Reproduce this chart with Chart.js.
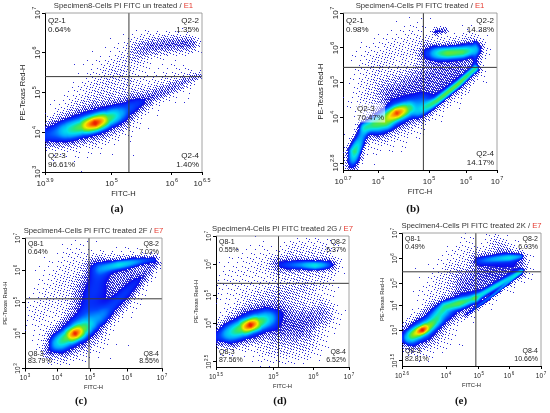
<!DOCTYPE html>
<html><head><meta charset="utf-8">
<script src="https://cdn.jsdelivr.net/npm/chart.js@4.4.1/dist/chart.umd.min.js"></script>
<style>
html,body{margin:0;padding:0;background:#fff;}
body{width:550px;height:413px;position:relative;overflow:hidden;}
canvas{position:absolute;left:0;top:0;}
</style></head><body>
<script>
// ---------------- DATA ----------------
const panelTitles = ["Specimen8-Cells PI FITC un treated / ", "Specimen4-Cells PI FITC treated / ", "Specimen4-Cells PI FITC treated 2F / ", "Specimen4-Cells PI FITC treated 2G / ", "Specimen4-Cells PI FITC treated 2K / "];
const titleTags = ["E1", "E1", "E7", "E7", "E7"];
const panelLetters = ["(a)", "(b)", "(c)", "(d)", "(e)"];
const xAxisTitle = "FITC-H";
const yAxisTitle = "PE-Texas Red-H";
const quadNames = [["Q2-1","Q2-2","Q2-3","Q2-4"],["Q2-1","Q2-2","Q2-3","Q2-4"],["Q8-1","Q8-2","Q8-3","Q8-4"],["Q8-1","Q8-2","Q8-3","Q8-4"],["Q8-1","Q8-2","Q8-3","Q8-4"]];
const quadPcts = [["0.64%","1.35%","96.61%","1.40%"],["0.98%","14.38%","70.47%","14.17%"],["0.64%","7.02%","83.79%","8.55%"],["0.55%","5.37%","87.56%","6.52%"],["0.49%","6.03%","82.81%","10.66%"]];
// tick exponents (log10 of FITC-H / PE-Texas Red-H)
const xTicks = [[3.9,5,6,6.5],[0.7,4,5,6,7],[3,4,5,6,7],[3.5,5,6,7],[2.6,4,5,6,7]];
const yTicks = [[3,4,5,6,7],[2.8,4,5,6,7],[3,4,5,6,7],[2.5,4,5,6,7],[1.5,3,4,5,6,7]];
// quadrant gates (log10)
const gateX = [5.29, 4.89, 4.97, 5.13, 4.91];
const gateY = [5.40, 5.43, 5.10, 5.38, 5.46];
// cell populations: each path = list of [log10 FITC, log10 PE, density, spread(decades)]
const popsA = [
 [[3.9,3.92,3,0.16],[4.3,4.06,5,0.19],[4.75,4.25,5,0.21],[5.1,4.45,3,0.2],[5.4,4.7,1.2,0.17]],
 [[4.25,4.03,3,0.12],[4.5,4.13,10,0.1],[4.73,4.23,55,0.09],[4.95,4.35,10,0.1],[5.15,4.47,3,0.12]],
 [[5.35,4.65,1.6,0.12],[5.9,5.05,1.1,0.1],[6.45,5.43,0.9,0.06]],
 [[5.4,4.95,0.35,0.25],[6.2,5.35,0.3,0.2]],
 [[5.45,6.1,0.7,0.15],[5.9,6.2,1.5,0.14],[6.3,6.23,1.6,0.12],[6.42,6.22,0.6,0.08]],
 [[4.5,4.6,0.35,0.3],[5.0,5.3,0.45,0.3],[5.4,5.9,0.4,0.25],[5.6,6.2,0.3,0.2]],
 [[4.2,3.95,0.35,0.3],[5.0,4.4,0.4,0.35]]
];
const popsB = [
 [[1.55,2.75,3,0.1],[1.8,3.1,12,0.1],[2.3,3.4,6,0.1],[2.8,3.72,4,0.09]],
 [[2.8,3.72,5,0.1],[3.6,3.8,9,0.1],[4.14,3.88,10,0.12]],
 [[4.0,3.8,5,0.2],[4.4,4.1,6,0.2],[4.85,4.4,3,0.18]],
 [[4.15,3.95,5,0.1],[4.37,4.11,45,0.09],[4.6,4.25,8,0.1]],
 [[4.8,4.15,3,0.1],[5.2,4.45,12,0.06],[5.8,4.95,14,0.05],[6.3,5.4,8,0.05]],
 [[4.8,4.2,1.6,0.2],[5.8,5.0,1.6,0.18],[6.3,5.4,1.0,0.12]],
 [[5.0,5.84,2,0.12],[5.5,5.85,14,0.09],[5.9,5.88,12,0.09],[6.3,5.95,4,0.1]],
 [[5.0,5.85,1.3,0.2],[6.3,5.95,1.3,0.16]],
 [[6.3,5.35,1.8,0.06],[6.3,6.15,1.2,0.05]],
 [[5.2,6.47,2.2,0.06],[5.45,6.5,1.6,0.05]],
 [[4.3,4.6,1.5,0.3],[5.0,5.1,1.5,0.3],[5.8,5.6,1.3,0.3],[6.1,6.1,0.6,0.2]],
 [[3.0,4.5,0.25,0.3],[4.0,5.5,0.35,0.35],[4.7,6.2,0.25,0.3]],
 [[3.5,3.4,0.2,0.25],[4.6,3.7,0.25,0.2]]
];
const popsC = [
 [[3.8,3.52,1.8,0.16],[4.1,3.75,5,0.22],[4.6,4.05,5.5,0.25],[5.0,4.35,3,0.22],[5.3,4.6,1.8,0.2]],
 [[4.0,3.7,3,0.13],[4.3,3.88,10,0.12],[4.55,4.0,50,0.1],[4.8,4.15,10,0.12],[5.0,4.28,3,0.13]],
 [[4.85,4.4,2.5,0.3],[5.0,5.2,2.4,0.3],[5.25,5.9,2.5,0.25]],
 [[5.3,4.5,2.2,0.15],[6.0,5.3,2.2,0.15],[6.8,6.2,1.0,0.1]],
 [[5.5,5.2,1.2,0.35],[6.0,5.8,1.2,0.3]],
 [[5.3,6.05,2,0.1],[5.77,6.16,7,0.08],[6.4,6.28,3,0.08],[6.75,6.33,1.4,0.06]],
 [[5.2,6.05,1.3,0.2],[6.75,6.3,1.0,0.12]],
 [[3.5,4.6,0.25,0.35],[4.2,5.6,0.3,0.4],[4.6,6.4,0.2,0.3]],
 [[4.3,3.45,0.3,0.25],[5.2,3.9,0.2,0.3]]
];
const popsD = [
 [[3.5,3.45,2.5,0.2],[3.9,3.63,5,0.27],[4.4,3.93,6,0.3],[4.8,4.15,4,0.28],[5.1,4.35,1.5,0.25]],
 [[3.85,3.6,3,0.16],[4.15,3.78,10,0.14],[4.4,3.93,55,0.11],[4.65,4.05,10,0.14],[4.9,4.18,3,0.16]],
 [[5.2,3.8,1.5,0.4],[5.7,3.95,1.7,0.4],[6.2,4.3,1.2,0.3],[6.4,4.5,0.6,0.2]],
 [[5.2,5.98,1.5,0.12],[5.7,5.98,4,0.1],[6.05,5.96,8,0.09],[6.4,5.98,3,0.1],[6.55,6.0,1,0.08]],
 [[5.1,5.98,1.0,0.22],[6.5,6.0,1.0,0.2]],
 [[4.5,4.6,0.5,0.4],[5.2,5.0,0.7,0.4],[5.8,5.3,0.5,0.4],[6.2,5.4,0.3,0.3]],
 [[5.5,6.5,0.35,0.25],[6.3,6.55,0.3,0.25]],
 [[3.8,5.3,0.15,0.5],[4.6,6.1,0.2,0.4]],
 [[4.8,2.9,0.25,0.3],[5.8,3.0,0.3,0.3]]
];
const popsE = [
 [[2.62,2.52,2.2,0.2],[2.9,2.67,6,0.27],[3.25,3.0,7,0.3],[3.6,3.35,5,0.28],[3.95,3.7,3,0.25]],
 [[2.8,2.62,3,0.13],[3.05,2.85,20,0.12],[3.25,3.0,55,0.1],[3.45,3.15,15,0.12],[3.7,3.4,4,0.13]],
 [[3.7,3.55,3,0.15],[3.97,3.96,8,0.13],[4.38,4.1,12,0.12],[4.88,4.33,6,0.1]],
 [[3.8,3.7,2,0.3],[4.5,4.15,3,0.3],[4.9,4.35,1.5,0.25]],
 [[4.88,4.33,6,0.08],[5.6,4.9,7,0.07],[6.36,5.46,4,0.06]],
 [[4.9,4.35,1.5,0.2],[6.36,5.46,1.2,0.15]],
 [[4.6,3.6,1.5,0.05],[5.5,4.5,4,0.05],[6.41,5.5,3,0.05]],
 [[5.0,5.9,1.5,0.12],[5.5,5.97,4,0.1],[6.0,6.02,6,0.09],[6.36,6.07,3,0.07]],
 [[5.0,5.9,1.2,0.25],[6.35,6.05,1.2,0.17]],
 [[4.6,5.0,1.3,0.4],[5.4,5.4,1.8,0.4],[6.1,5.7,1.8,0.35],[5.6,6.5,0.6,0.3]],
 [[3.6,4.5,0.25,0.4],[4.2,5.6,0.3,0.4],[4.6,6.5,0.2,0.3]],
 [[3.3,2.2,0.3,0.3],[4.0,2.8,0.25,0.35]]
];
const populations = [popsA, popsB, popsC, popsD, popsE];

// ---------------- LAYOUT / STYLE ----------------
const layoutCfg = [
 {rect:[45,13,202,172], xk:[[3.9,45],[6.5,202]], yk:[[3,172],[7,13]], big:true, letter:[117,209]},
 {rect:[343,13,497,170], xk:[[0.7,343],[4,378],[5,429],[6,466],[7,497]], yk:[[2.62,170],[2.8,163],[4,117],[5,82],[6,48],[7,13]], big:true, letter:[413,209], q3:[357,108.5]},
 {rect:[25,238,162,368.5], xk:[[3,25],[4,57],[5,90],[6,127],[7,162]], yk:[[3,368.5],[4,333.5],[5,302],[6,270],[7,238]], big:false, letter:[81,401]},
 {rect:[216,236,349,367], xk:[[3.5,216],[5,273.3],[6,313.3],[7,349]], yk:[[2.3,367],[2.5,361.7],[4,323.3],[5,295],[6,264.3],[7,236]], big:false, letter:[280,401]},
 {rect:[402,233,541,366], xk:[[2.6,402],[4,446],[5,478.8],[6,509],[7,541]], yk:[[1.25,366],[1.5,360.7],[3,330],[4,305.7],[5,283.3],[6,258.3],[7,233]], big:false, letter:[461,401]}
];
const RAMP = [[1.0,[10,10,238]],[1.8,[0,70,255]],[2.5,[0,165,255]],[3.1,[0,225,235]],[3.6,[40,230,120]],[4.2,[130,230,20]],[4.8,[245,235,0]],[5.3,[255,150,0]],[5.8,[240,40,0]],[6.4,[200,0,0]]];
const SOLID = 2;
const FONT = '"Liberation Sans", Arial, sans-serif';
const TL = 3;

// piecewise log axis (log-decade positions)
class PieceScale extends Chart.LinearScale {
  _kn(){ return this.chart.canvas._knots[this.axis]; }
  getPixelForValue(v){
    const k=this._kn(); let i=0;
    while(i<k.length-2 && v>k[i+1][0]) i++;
    const a=k[i], b=k[i+1];
    const f=a[1]+(v-a[0])/(b[0]-a[0])*(b[1]-a[1]);
    return this.isHorizontal()? this.left+f*this.width : this.bottom-f*this.height;
  }
  getValueForPixel(p){
    const f=this.isHorizontal()?(p-this.left)/this.width:(this.bottom-p)/this.height;
    const k=this._kn(); let i=0;
    while(i<k.length-2 && f>k[i+1][1]) i++;
    const a=k[i], b=k[i+1];
    return a[0]+(f-a[1])/(b[1]-a[1])*(b[0]-a[0]);
  }
}
PieceScale.id='piece';
PieceScale.defaults={};
Chart.register(PieceScale);

function ign(x,y){ const v=0.06711056*x+0.00583715*y; const f=v-Math.floor(v); const w=52.9829189*f; return w-Math.floor(w); }
function rampColor(L){
  if(L<=RAMP[0][0]) return RAMP[0][1];
  for(let k=0;k<RAMP.length-1;k++){
    const a=RAMP[k], b=RAMP[k+1];
    if(L<=b[0]){ const t=(L-a[0])/(b[0]-a[0]); return [0,1,2].map(j=>Math.round(a[1][j]+t*(b[1][j]-a[1][j]))); }
  }
  return RAMP[RAMP.length-1][1];
}
function buildDensity(chart, pops){
  const a=chart.chartArea, xs=chart.scales.x, ys=chart.scales.y;
  const x0=Math.round(a.left), y0=Math.round(a.top), W=Math.round(a.right)-x0, H=Math.round(a.bottom)-y0;
  const pxDec=(a.bottom-a.top)/(ys.max-ys.min);
  const segs=pops.map(path=>{
    const p=path.map(q=>[xs.getPixelForValue(q[0]), ys.getPixelForValue(q[1]), q[2], q[3]*pxDec]);
    const s=[]; if(p.length===1) s.push([p[0],p[0]]);
    for(let k=0;k<p.length-1;k++) s.push([p[k],p[k+1]]);
    return s;
  });
  const off=document.createElement('canvas'); off.width=W; off.height=H;
  const oc=off.getContext('2d'); const img=oc.createImageData(W,H); const d=img.data;
  for(let py=0;py<H;py++) for(let px=0;px<W;px++){
    const cx=x0+px+0.5, cy=y0+py+0.5; let D=0;
    for(const s of segs){
      let best=0;
      for(const [A,B] of s){
        const dx=B[0]-A[0], dy=B[1]-A[1]; const L2=dx*dx+dy*dy;
        let t=L2>0?((cx-A[0])*dx+(cy-A[1])*dy)/L2:0; t=t<0?0:(t>1?1:t);
        const qx=A[0]+t*dx-cx, qy=A[1]+t*dy-cy; const d2=qx*qx+qy*qy;
        const sg=A[3]+t*(B[3]-A[3]); if(d2>16*sg*sg) continue;
        const n=A[2]+t*(B[2]-A[2]); const v=n*Math.exp(-d2/(2*sg*sg));
        if(v>best) best=v;
      }
      D+=best;
    }
    const o=(py*W+px)*4;
    if(D<SOLID){ if(ign(x0+px,y0+py)<D*0.42){ d[o]=25; d[o+1]=25; d[o+2]=210; d[o+3]=235; } }
    else { const c=rampColor(Math.log2(D)); d[o]=c[0]; d[o+1]=c[1]; d[o+2]=c[2]; d[o+3]=255; }
  }
  oc.putImageData(img,0,0);
  return {off,x0,y0,W,H};
}
function drawPow(ctx, exp, X, baseY, fs, es, rise){
  ctx.textAlign='left'; ctx.textBaseline='alphabetic';
  ctx.font=fs+'px '+FONT; const wb=ctx.measureText('10').width;
  ctx.font=es+'px '+FONT; const we=ctx.measureText(exp).width;
  const s=X-(wb+we+0.6)/2;
  ctx.font=fs+'px '+FONT; ctx.fillText('10',s,baseY);
  ctx.font=es+'px '+FONT; ctx.fillText(exp,s+wb+0.6,baseY-rise);
}
function densityPlugin(i){ return { id:'dens'+i, beforeDatasetsDraw(chart){
  if(!chart.$dens) chart.$dens=buildDensity(chart, populations[i]);
  const g=chart.$dens; chart.ctx.drawImage(g.off,g.x0,g.y0,g.W,g.H);
}}; }
function textPlugin(i){ return { id:'txt'+i, afterDraw(chart){
  const ctx=chart.ctx, c=layoutCfg[i], a=chart.chartArea, xs=chart.scales.x, ys=chart.scales.y, big=c.big;
  ctx.save();
  ctx.strokeStyle='#8c8c8c'; ctx.lineWidth=0.8; ctx.beginPath();
  ctx.moveTo(a.left,a.top); ctx.lineTo(a.right,a.top); ctx.lineTo(a.right,a.bottom); ctx.stroke();
  // title
  ctx.font='7.7px '+FONT; ctx.textBaseline='middle'; ctx.textAlign='left';
  const t1=panelTitles[i], t2=titleTags[i]; const w1=ctx.measureText(t1).width, w2=ctx.measureText(t2).width;
  const cx=(a.left+a.right)/2; const sx=cx-(w1+w2)/2; const ty=a.top-7;
  ctx.fillStyle='#333'; ctx.fillText(t1,sx,ty); ctx.fillStyle='#e53a2f'; ctx.fillText(t2,sx+w1,ty);
  // tick labels
  const fs=big?8:6.5, es=big?5.5:4.5, rise=big?3.5:2.8;
  ctx.fillStyle='#222';
  xTicks[i].forEach(v=>{ drawPow(ctx,String(v),xs.getPixelForValue(v),a.bottom+(big?13.5:11.5),fs,es,rise); });
  yTicks[i].forEach(v=>{ const Y=ys.getPixelForValue(v); ctx.save(); ctx.translate(a.left-(big?8:7.5),Y); ctx.rotate(-Math.PI/2); drawPow(ctx,String(v),0,fs*0.36,fs,es,rise); ctx.restore(); });
  // axis titles
  const afs=big?7.5:5.8; ctx.font=afs+'px '+FONT; ctx.textAlign='center'; ctx.textBaseline='middle';
  ctx.fillText(xAxisTitle, cx, a.bottom+(big?22:19));
  ctx.save(); ctx.translate(a.left-(big?22:20),(a.top+a.bottom)/2); ctx.rotate(-Math.PI/2); ctx.fillText(yAxisTitle,0,0); ctx.restore();
  // quadrant labels
  const qfs=big?8:7; ctx.font=qfs+'px '+FONT; ctx.fillStyle='#222'; ctx.textBaseline='middle';
  const l1t=a.top+(big?7.5:6.5), l2t=a.top+(big?16.5:14), l1b=a.bottom-(big?16:14.5), l2b=a.bottom-7;
  const xl=a.left+3, xr=a.right-3, qn=quadNames[i], qp=quadPcts[i];
  ctx.textAlign='left'; ctx.fillText(qn[0],xl,l1t); ctx.fillText(qp[0],xl,l2t);
  ctx.textAlign='right'; ctx.fillText(qn[1],xr,l1t); ctx.fillText(qp[1],xr,l2t);
  ctx.fillText(qn[3],xr,l1b); ctx.fillText(qp[3],xr,l2b);
  ctx.textAlign='left';
  if(c.q3){
    const w=Math.max(ctx.measureText(qn[2]).width, ctx.measureText(qp[2]).width);
    ctx.fillStyle='rgba(255,255,255,0.55)'; ctx.fillRect(c.q3[0]-1,c.q3[1]-5,w+2,19);
    ctx.fillStyle='#222'; ctx.fillText(qn[2],c.q3[0],c.q3[1]); ctx.fillText(qp[2],c.q3[0],c.q3[1]+9);
  } else { ctx.fillText(qn[2],xl,l1b); ctx.fillText(qp[2],xl,l2b); }
  // panel letter
  ctx.font='bold 11px "Liberation Serif", "Times New Roman", serif'; ctx.fillStyle='#111'; ctx.textAlign='center';
  ctx.fillText(panelLetters[i], c.letter[0], c.letter[1]);
  ctx.restore();
}}; }

function makeChart(i){
  const c=layoutCfg[i]; const [L,T,R,B]=c.rect;
  const cv=document.createElement('canvas'); cv.width=550; cv.height=413; cv.style.width='550px'; cv.style.height='413px';
  document.body.appendChild(cv);
  const toFracX=p=>(p-L)/(R-L), toFracY=p=>(B-p)/(B-T);
  cv._knots={x:c.xk.map(k=>[k[0],toFracX(k[1])]), y:c.yk.map(k=>[k[0],toFracY(k[1])])};
  const xmin=c.xk[0][0], xmax=c.xk[c.xk.length-1][0], ymin=c.yk[0][0], ymax=c.yk[c.yk.length-1][0];
  const axisCommon={type:'piece', ticks:{display:false, callback:()=> ''},
    grid:{display:true, drawOnChartArea:false, drawTicks:true, tickLength:TL, color:'#000', lineWidth:1},
    border:{display:true, color:'#000', width:1}};
  new Chart(cv, {
    type:'scatter',
    data:{datasets:[
      {data:[{x:gateX[i],y:ymin},{x:gateX[i],y:ymax}], showLine:true, borderColor:'#3a3a3a', borderWidth:1, pointRadius:0},
      {data:[{x:xmin,y:gateY[i]},{x:xmax,y:gateY[i]}], showLine:true, borderColor:'#3a3a3a', borderWidth:1, pointRadius:0}
    ]},
    options:{
      responsive:false, animation:false, events:[],
      layout:{padding:{left:L-TL, top:T, right:550-R, bottom:413-B-TL}},
      plugins:{legend:{display:false}, tooltip:{enabled:false}},
      scales:{
        x:Object.assign({}, axisCommon, {min:xmin, max:xmax, afterBuildTicks:s=>{ s.ticks=xTicks[i].map(v=>({value:v})); }}),
        y:Object.assign({}, axisCommon, {min:ymin, max:ymax, afterBuildTicks:s=>{ s.ticks=yTicks[i].map(v=>({value:v})); }})
      }
    },
    plugins:[densityPlugin(i), textPlugin(i)]
  });
}
for(let i=0;i<5;i++) makeChart(i);
</script>
</body></html>
